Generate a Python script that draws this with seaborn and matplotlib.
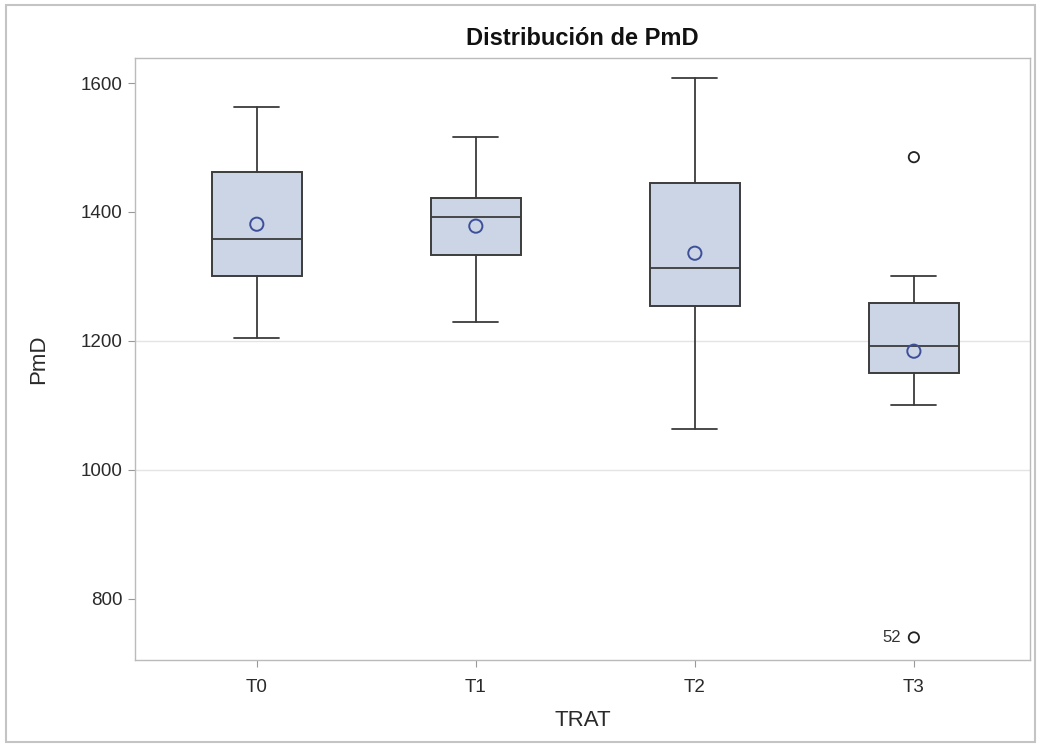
import matplotlib
matplotlib.use("Agg")
import matplotlib.pyplot as plt
import matplotlib.patches as mpatches
import seaborn as sns
import pandas as pd

# Summary statistics of PmD by treatment
groups = ["T0", "T1", "T2", "T3"]
whisker_low = [1205, 1229, 1064, 1101]
q1 = [1301, 1333, 1254, 1150]
median = [1358, 1392, 1313, 1192]
q3 = [1462, 1422, 1445, 1259]
whisker_high = [1563, 1516, 1608, 1300]
means = [1381, 1378, 1336, 1184]
outlier_group = ["T3", "T3"]
outlier_values = [1485, 740]
outlier_ids = ["", "52"]

y_ticks = [800, 1000, 1200, 1400, 1600]

sns.set_theme(style="white")
plt.rcParams["font.family"] = ["Liberation Sans", "DejaVu Sans"]

fig = plt.figure(figsize=(10.41, 7.47), dpi=100)
ax = fig.add_axes([0.1297, 0.1165, 0.8597, 0.806])

pos = list(range(len(groups)))
stats = []
for i, g in enumerate(groups):
    stats.append(dict(label=g, whislo=whisker_low[i], q1=q1[i], med=median[i],
                      q3=q3[i], whishi=whisker_high[i], fliers=[]))

edge = "#3c3c3c"
ax.bxp(stats, positions=pos, widths=0.41, patch_artist=True, showfliers=False,
       boxprops=dict(facecolor="#cbd5e6", edgecolor=edge, linewidth=1.4),
       medianprops=dict(color=edge, linewidth=1.3),
       whiskerprops=dict(color=edge, linewidth=1.3),
       capprops=dict(color=edge, linewidth=1.3))

# Means
mean_df = pd.DataFrame({"x": pos, "y": means})
sns.scatterplot(data=mean_df, x="x", y="y", ax=ax, marker="o", s=90,
                facecolor="none", edgecolor="#3e4f9a", linewidth=1.4, zorder=5)

# Outliers
out_df = pd.DataFrame({"x": [groups.index(g) for g in outlier_group],
                       "y": outlier_values})
sns.scatterplot(data=out_df, x="x", y="y", ax=ax, marker="o", s=55,
                facecolor="none", edgecolor="#222222", linewidth=1.3, zorder=5)
for xv, yv, lab in zip(out_df["x"], out_df["y"], outlier_ids):
    if lab:
        ax.annotate(lab, (xv, yv), xytext=(-9, 0), textcoords="offset points",
                    ha="right", va="center", fontsize=12, color="#333333")

# Faint reference lines
for yv in [1000, 1200]:
    ax.axhline(yv, color="#e4e4e4", linewidth=1.0, zorder=0)

ax.set_xlim(-0.556, 3.53)
ax.set_ylim(705, 1639)
ax.set_xticks(pos)
ax.set_xticklabels(groups)
ax.set_yticks(y_ticks)
ax.set_yticklabels([str(v) for v in y_ticks])
ax.tick_params(axis="both", which="both", length=5, width=0.8, color="#999999",
               labelsize=13.5, labelcolor="#2a2a2a", left=True, bottom=True)
ax.tick_params(axis="y", pad=4)
ax.tick_params(axis="x", pad=9)
for s in ax.spines.values():
    s.set_color("#bbbbbb")
    s.set_linewidth(1.0)

ax.set_xlabel("TRAT", fontsize=16, color="#2a2a2a", labelpad=10)
ax.set_ylabel("PmD", fontsize=16, color="#2a2a2a", labelpad=23)
ax.set_title("Distribución de PmD", fontsize=17, fontweight="bold",
             color="#111111", pad=9)

# Graph border
fig.patches.append(mpatches.Rectangle((0.006, 0.007), 0.988, 0.986,
                                      transform=fig.transFigure, fill=False,
                                      edgecolor="#c4c4c4", linewidth=1.5))

fig.savefig("out.png", dpi=100)
